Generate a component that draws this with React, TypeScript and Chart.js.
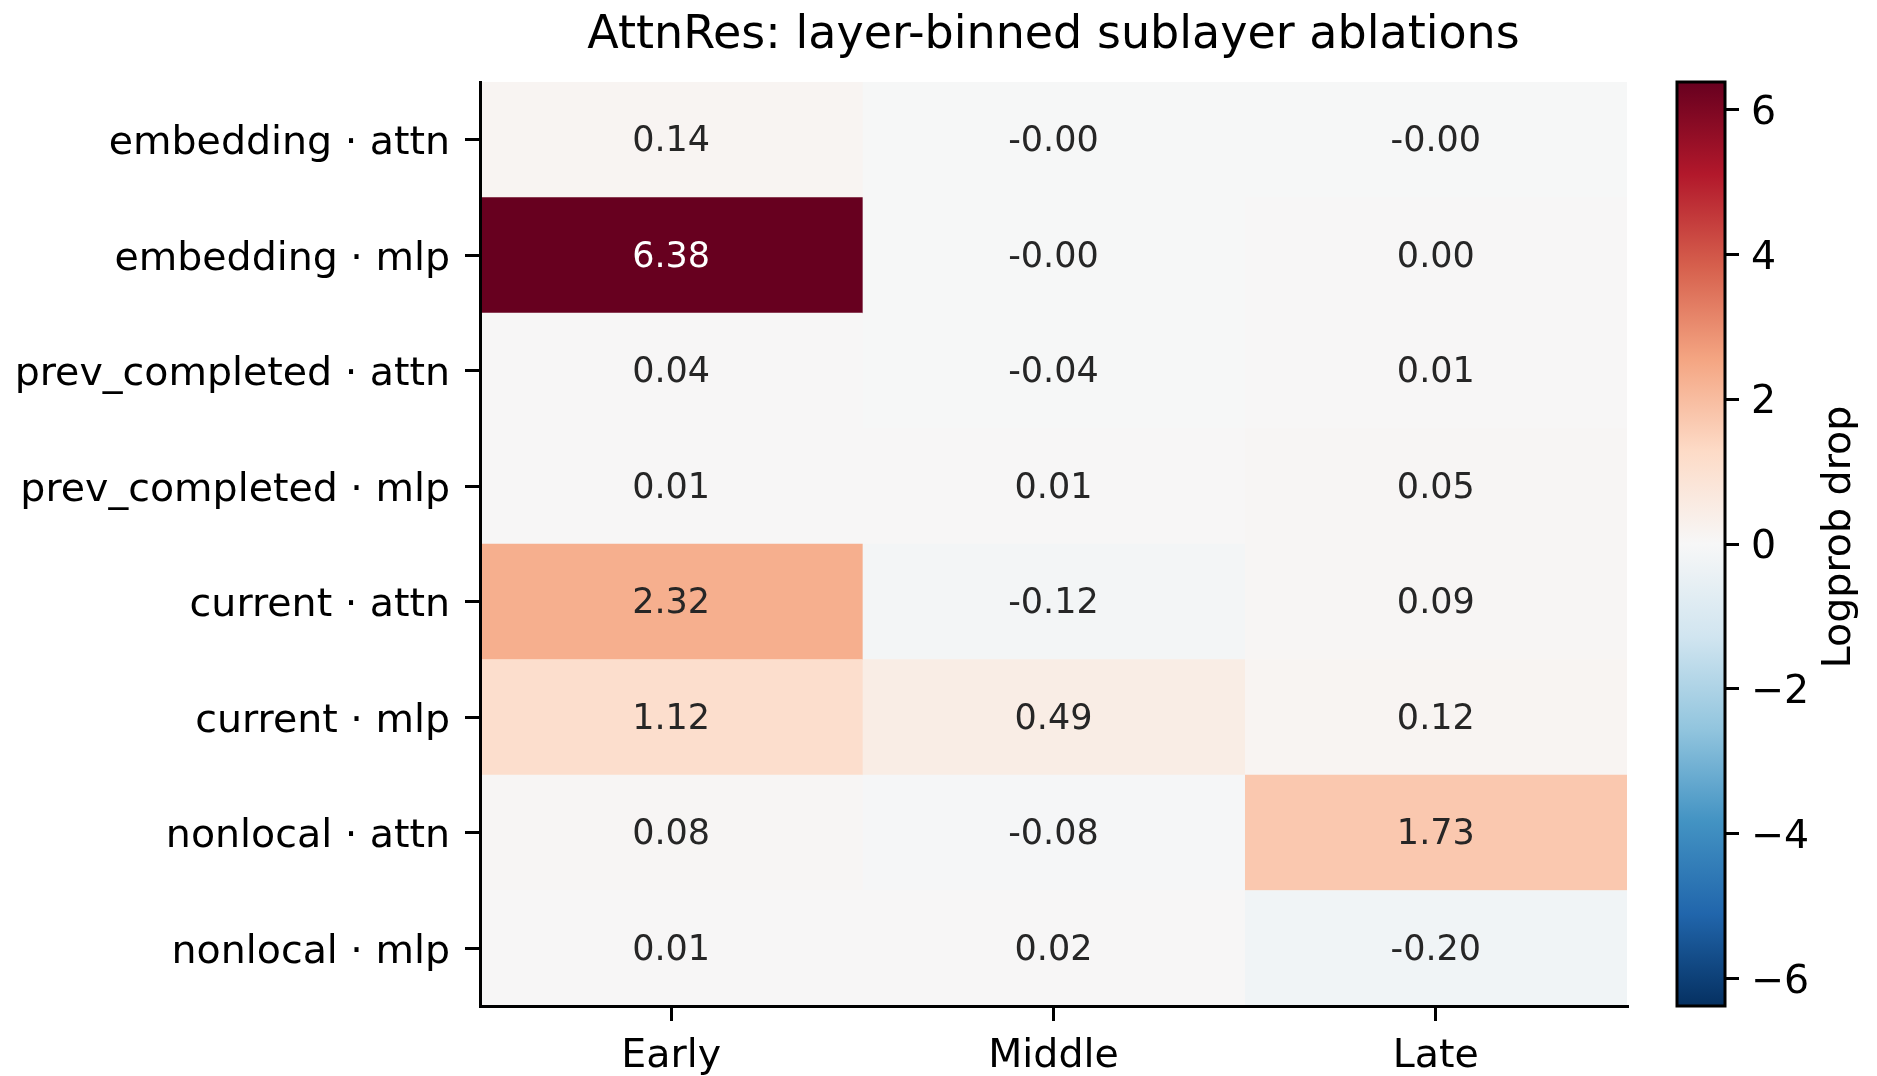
import React, { useEffect, useRef } from 'react';
import { Chart, registerables } from 'chart.js';

Chart.register(...registerables);

const TITLE = 'AttnRes: layer-binned sublayer ablations';
const rowLabels = [
  'embedding · attn',
  'embedding · mlp',
  'prev_completed · attn',
  'prev_completed · mlp',
  'current · attn',
  'current · mlp',
  'nonlocal · attn',
  'nonlocal · mlp',
];
const colLabels = ['Early', 'Middle', 'Late'];
const earlyValues = [0.14, 6.38, 0.04, 0.01, 2.32, 1.12, 0.08, 0.01];
const middleValues = [-0.001, -0.001, -0.04, 0.01, -0.12, 0.49, -0.08, 0.02];
const lateValues = [-0.001, 0.001, 0.01, 0.05, 0.09, 0.12, 1.73, -0.2];
const colorbarTicks = [-6, -4, -2, 0, 2, 4, 6];
const colorbarLabel = 'Logprob drop';
const vMin = -6.38;
const vMax = 6.38;
const rdbuRStops = [
  '#053061', '#2166ac', '#4393c3', '#92c5de', '#d1e5f0', '#f7f7f7',
  '#fddbc7', '#f4a582', '#d6604d', '#b2182b', '#67001f',
];

const FONT = '"DejaVu Sans", "Liberation Sans", sans-serif';
const W = 1877;
const H = 1076;

function hexToRgb(h: string): number[] {
  return [parseInt(h.slice(1, 3), 16), parseInt(h.slice(3, 5), 16), parseInt(h.slice(5, 7), 16)];
}

function cmapRgb(v: number): number[] {
  let t = (v - vMin) / (vMax - vMin);
  t = Math.max(0, Math.min(1, t));
  let idx = Math.floor(t * 256);
  if (idx > 255) idx = 255;
  const tq = idx / 255;
  const pos = tq * (rdbuRStops.length - 1);
  const i = Math.min(Math.floor(pos), rdbuRStops.length - 2);
  const f = pos - i;
  const a = hexToRgb(rdbuRStops[i]);
  const b = hexToRgb(rdbuRStops[i + 1]);
  return [0, 1, 2].map((k) => a[k] + (b[k] - a[k]) * f);
}

function cmap(v: number): string {
  const c = cmapRgb(v);
  return `rgb(${Math.round(c[0])},${Math.round(c[1])},${Math.round(c[2])})`;
}

function luminance(v: number): number {
  const c = cmapRgb(v).map((x) => {
    const s = x / 255;
    return s <= 0.03928 ? s / 12.92 : Math.pow((s + 0.055) / 1.055, 2.4);
  });
  return 0.2126 * c[0] + 0.7152 * c[1] + 0.0722 * c[2];
}

const columns = [earlyValues, middleValues, lateValues];

export default function App() {
  const mainRef = useRef<HTMLCanvasElement | null>(null);
  const cbRef = useRef<HTMLCanvasElement | null>(null);

  useEffect(() => {
    const annotPlugin = {
      id: 'annot',
      afterDatasetsDraw(chart: any) {
        const ctx = chart.ctx;
        ctx.save();
        const fs = 35;
        ctx.font = `${fs}px ${FONT}`;
        ctx.textAlign = 'center';
        ctx.textBaseline = 'alphabetic';
        columns.forEach((vals, j) => {
          const meta = chart.getDatasetMeta(j);
          meta.data.forEach((el: any, i: number) => {
            const v = vals[i];
            const cx = (el.x + el.base) / 2;
            const cy = el.y;
            ctx.fillStyle = luminance(v) > 0.408 ? '#262626' : '#ffffff';
            ctx.fillText(v.toFixed(2), cx, cy + fs * 0.33);
          });
        });
        ctx.restore();
      },
      afterDraw(chart: any) {
        const ctx = chart.ctx;
        const ca = chart.chartArea;
        ctx.save();
        ctx.font = `46px ${FONT}`;
        ctx.fillStyle = '#000';
        ctx.textAlign = 'center';
        ctx.textBaseline = 'alphabetic';
        ctx.fillText(TITLE, (ca.left + ca.right) / 2, 48);
        ctx.restore();
      },
    };

    const tickFont = { family: FONT, size: 39.5 };

    const main = new Chart(mainRef.current as HTMLCanvasElement, {
      type: 'bar',
      data: {
        labels: rowLabels,
        datasets: columns.map((vals, j) => ({
          label: colLabels[j],
          data: vals.map(() => 1),
          backgroundColor: vals.map(cmap),
          borderWidth: 0,
          barPercentage: 1,
          categoryPercentage: 1,
        })),
      },
      options: {
        indexAxis: 'y',
        responsive: false,
        animation: false,
        events: [],
        layout: { padding: { left: 0, top: 82, right: 23, bottom: 0 } },
        plugins: { legend: { display: false }, tooltip: { enabled: false }, title: { display: false } },
        scales: {
          y: {
            type: 'category',
            stacked: true,
            offset: true,
            grid: {
              display: true,
              drawOnChartArea: false,
              drawTicks: true,
              tickLength: 15,
              offset: false,
              color: '#000',
              lineWidth: 3,
              z: 1,
            },
            border: { display: true, color: '#000', width: 3, z: 1 },
            ticks: { color: '#000', font: tickFont, padding: 15, autoSkip: false, labelOffset: 4 },
            afterFit: (s: any) => {
              s.width = 480;
              s.paddingTop = 0;
              s.paddingBottom = 0;
            },
          },
          x: {
            type: 'linear',
            stacked: true,
            min: 0,
            max: colLabels.length,
            afterBuildTicks: (s: any) => {
              s.ticks = colLabels.map((_, i) => ({ value: i + 0.5 }));
            },
            ticks: {
              color: '#000',
              font: tickFont,
              padding: 12,
              autoSkip: false,
              maxRotation: 0,
              callback: (_v: any, i: number) => colLabels[i],
            },
            grid: {
              display: true,
              drawOnChartArea: false,
              drawTicks: true,
              tickLength: 15,
              color: '#000',
              lineWidth: 3,
              z: 1,
            },
            border: { display: true, color: '#000', width: 3, z: 1 },
            afterFit: (s: any) => {
              s.height = 70;
              s.paddingLeft = 0;
              s.paddingRight = 0;
            },
          },
        },
      } as any,
      plugins: [annotPlugin],
    });

    const cbPlugin = {
      id: 'cbframe',
      afterDraw(chart: any) {
        const ctx = chart.ctx;
        const ca = chart.chartArea;
        ctx.save();
        ctx.strokeStyle = '#000';
        ctx.lineWidth = 3;
        ctx.strokeRect(ca.left, ca.top, ca.right - ca.left, ca.bottom - ca.top);
        ctx.font = `39.5px ${FONT}`;
        ctx.fillStyle = '#000';
        ctx.textAlign = 'center';
        ctx.textBaseline = 'alphabetic';
        ctx.translate(200, 537);
        ctx.rotate(-Math.PI / 2);
        ctx.fillText(colorbarLabel, 0, 0);
        ctx.restore();
      },
    };

    const cb = new Chart(cbRef.current as HTMLCanvasElement, {
      type: 'bar',
      data: {
        labels: [colorbarLabel],
        datasets: [
          {
            data: [[vMin, vMax]] as any,
            backgroundColor: (c: any) => {
              const ch = c.chart;
              const ca = ch.chartArea;
              if (!ca) return '#f7f7f7';
              const g = ch.ctx.createLinearGradient(0, ca.bottom, 0, ca.top);
              rdbuRStops.forEach((col, i) => g.addColorStop(i / (rdbuRStops.length - 1), col));
              return g;
            },
            borderWidth: 0,
            barPercentage: 1,
            categoryPercentage: 1,
          },
        ],
      },
      options: {
        responsive: false,
        animation: false,
        events: [],
        layout: { padding: { left: 27, top: 82, right: 0, bottom: 70 } },
        plugins: { legend: { display: false }, tooltip: { enabled: false } },
        scales: {
          x: { display: false },
          y: {
            type: 'linear',
            position: 'right',
            min: vMin,
            max: vMax,
            afterBuildTicks: (s: any) => {
              s.ticks = colorbarTicks.map((v) => ({ value: v }));
            },
            ticks: {
              color: '#000',
              font: tickFont,
              padding: 12,
              autoSkip: false,
              labelOffset: 4,
              callback: (v: any) => (v < 0 ? '\u2212' + Math.abs(v) : String(v)),
            },
            grid: {
              display: true,
              drawOnChartArea: false,
              drawTicks: true,
              tickLength: 14,
              color: '#000',
              lineWidth: 3,
            },
            border: { display: false },
            afterFit: (s: any) => {
              s.width = 152;
              s.paddingTop = 0;
              s.paddingBottom = 0;
            },
          },
        },
      } as any,
      plugins: [cbPlugin],
    });

    return () => {
      main.destroy();
      cb.destroy();
    };
  }, []);

  return (
    <div style={{ position: 'fixed', left: 0, top: 0, width: W, height: H, background: '#fff' }}>
      <canvas
        ref={mainRef}
        width={1650}
        height={H}
        style={{ position: 'absolute', left: 0, top: 0, width: 1650, height: H }}
      />
      <canvas
        ref={cbRef}
        width={227}
        height={H}
        style={{ position: 'absolute', left: 1650, top: 0, width: 227, height: H }}
      />
    </div>
  );
}
